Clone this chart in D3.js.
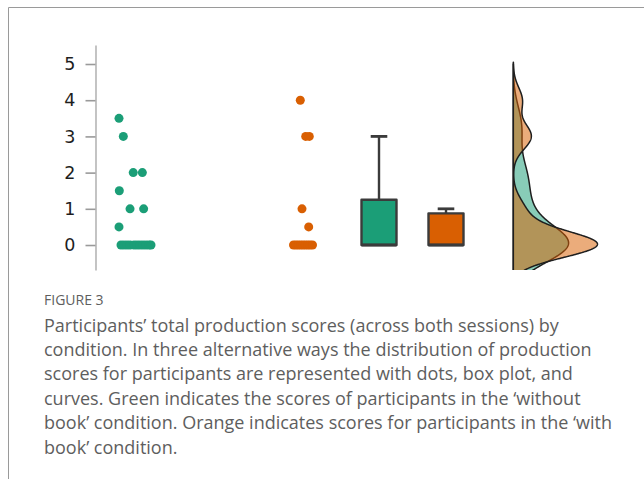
<!DOCTYPE html>
<html>
<head>
<meta charset="utf-8">
<script src="https://cdn.jsdelivr.net/npm/d3@7"></script>
<style>
  html, body { margin: 0; padding: 0; background: #fff; }
  svg { display: block; }
</style>
</head>
<body>
<svg id="fig" width="644" height="479"></svg>
<script>
// Total production scores per participant, one array per condition.
const conditions = ["without book", "with book"];
const withoutBookScores = [3.5, 3, 2, 2, 1.5, 1, 1, 0.5, 0, 0, 0, 0, 0, 0, 0, 0, 0, 0, 0];
const withBookScores = [4, 3, 3, 1, 0.5, 0, 0, 0, 0, 0, 0, 0, 0, 0];
// Horizontal jitter of each dot within its strip (-1 … 1).
const withoutBookJitter = [-1.0, -0.73, -0.11, 0.46, -0.98, -0.31, 0.54, -1.0,
  -0.875, -0.69, -0.5, -0.31, -0.06, 0.125, 0.31, 0.5, 0.69, 0.875, 1.0];
const withBookJitter = [-0.22, 0.32, 0.68, -0.05, 0.62,
  -0.9, -0.66, -0.43, -0.19, 0.05, 0.29, 0.53, 0.76, 1.0];
// Kernel bandwidths of the density curves.
const bandwidths = [0.5, 0.35];
const yTicks = [0, 1, 2, 3, 4, 5];

const captionTitle = "FIGURE 3";
const captionLines = [
  "Participants\u2019 total production scores (across both sessions) by",
  "condition. In three alternative ways the distribution of production",
  "scores for participants are represented with dots, box plot, and",
  "curves. Green indicates the scores of participants in the \u2018without",
  "book\u2019 condition. Orange indicates scores for participants in the \u2018with",
  "book\u2019 condition."
];

const dotColors = ["#1b9e77", "#d95f02"];
const groups = [
  { name: conditions[0], scores: withoutBookScores, jitter: withoutBookJitter, bw: bandwidths[0], color: dotColors[0] },
  { name: conditions[1], scores: withBookScores, jitter: withBookJitter, bw: bandwidths[1], color: dotColors[1] }
];

const svg = d3.select("#fig");

// panel frame
svg.append("path")
  .attr("d", "M8.5,479 V7.5 H644")
  .attr("fill", "none")
  .attr("stroke", "#9a9a9a")
  .attr("stroke-width", 1);

const plot = { top: 45, bottom: 270 };
const y = d3.scaleLinear().domain([-0.69, 5.525]).range([plot.bottom, plot.top]);

// x layout of the three views: strips, boxes, densities
const stripX = [135, 302.5];
const stripHalf = [16, 10];
const boxX = [379, 446];
const boxHalf = 17.5;
const capHalf = 8.3;
const densityBase = 513.3;
const densityWidth = 84.2;

// y axis
const axis = d3.axisLeft(y).tickValues(yTicks).tickSize(10).tickSizeOuter(0).tickPadding(10)
  .tickFormat(d3.format("d"));
const gAxis = svg.append("g").attr("transform", "translate(95.5,0)").call(axis);
gAxis.select(".domain").attr("stroke", "#b5b5b5").attr("stroke-width", 1.6);
gAxis.selectAll(".tick line").attr("stroke", "#9a9a9a").attr("stroke-width", 1.6);
gAxis.selectAll(".tick text")
  .attr("fill", "#1e1e1e")
  .style("font-family", "'DejaVu Sans', sans-serif")
  .style("font-size", "17.5px");

// strip of dots
groups.forEach((g, gi) => {
  const jx = d3.scaleLinear().domain([-1, 1]).range([stripX[gi] - stripHalf[gi], stripX[gi] + stripHalf[gi]]);
  svg.append("g").selectAll("circle")
    .data(g.scores.map((s, i) => ({ s, j: g.jitter[i] })))
    .join("circle")
    .attr("cx", d => jx(d.j))
    .attr("cy", d => y(d.s))
    .attr("r", 4.5)
    .attr("fill", g.color);
});

// box plots (Tukey whiskers, outliers not shown)
groups.forEach((g, gi) => {
  const sorted = g.scores.slice().sort(d3.ascending);
  const q1 = d3.quantile(sorted, 0.25);
  const med = d3.quantile(sorted, 0.5);
  const q3 = d3.quantile(sorted, 0.75);
  const iqr = q3 - q1;
  const hi = d3.max(sorted.filter(v => v <= q3 + 1.5 * iqr));
  const lo = d3.min(sorted.filter(v => v >= q1 - 1.5 * iqr));
  const cx = boxX[gi];
  const bg = svg.append("g").attr("stroke", "#3b3b3b").attr("stroke-width", 2.4).attr("stroke-linejoin", "round");
  if (hi > q3) {
    bg.append("line").attr("x1", cx).attr("x2", cx).attr("y1", y(q3)).attr("y2", y(hi));
    bg.append("line").attr("x1", cx - capHalf).attr("x2", cx + capHalf).attr("y1", y(hi)).attr("y2", y(hi)).attr("stroke-width", 2.8);
  }
  if (lo < q1) {
    bg.append("line").attr("x1", cx).attr("x2", cx).attr("y1", y(q1)).attr("y2", y(lo));
    bg.append("line").attr("x1", cx - capHalf).attr("x2", cx + capHalf).attr("y1", y(lo)).attr("y2", y(lo));
  }
  bg.append("rect")
    .attr("x", cx - boxHalf).attr("width", boxHalf * 2)
    .attr("y", y(q3)).attr("height", y(q1) - y(q3))
    .attr("fill", g.color);
  bg.append("line").attr("x1", cx - boxHalf).attr("x2", cx + boxHalf)
    .attr("y1", y(med)).attr("y2", y(med)).attr("stroke-width", 3.2);
});

// gaussian kernel densities, drawn as half-violins to the right of a shared baseline
const gauss = u => Math.exp(-0.5 * u * u) / Math.sqrt(2 * Math.PI);
const densities = groups.map(g => {
  const lo = d3.min(g.scores) - 3 * g.bw, hi = d3.max(g.scores) + 3 * g.bw;
  const grid = d3.range(lo, hi, 0.01).concat([hi]);
  return grid.map(t => [t, d3.sum(g.scores, v => gauss((t - v) / g.bw)) / (g.scores.length * g.bw)]);
});
const dx = d3.scaleLinear()
  .domain([0, d3.max(densities, d => d3.max(d, p => p[1]))])
  .range([densityBase, densityBase + densityWidth]);

svg.append("clipPath").attr("id", "plotClip")
  .append("rect").attr("x", 0).attr("y", plot.top).attr("width", 644).attr("height", plot.bottom - plot.top);

const area = d3.area()
  .y(d => y(d[0]))
  .x0(dx(0))
  .x1(d => dx(d[1]));

const gd = svg.append("g").attr("clip-path", "url(#plotClip)");
densities.forEach((d, gi) => {
  gd.append("path")
    .datum(d)
    .attr("d", area)
    .attr("fill", dotColors[gi])
    .attr("fill-opacity", 0.52)
    .attr("stroke", "#1e1e1e")
    .attr("stroke-width", 1.5)
    .attr("stroke-linejoin", "round");
});

// caption
svg.append("text")
  .attr("x", 44).attr("y", 305)
  .attr("fill", "#5e5e5e")
  .style("font-family", "'Open Sans', sans-serif")
  .style("font-size", "14px")
  .text(captionTitle);

svg.append("g").selectAll("text")
  .data(captionLines)
  .join("text")
  .attr("x", 44)
  .attr("y", (d, i) => 331.5 + i * 24.4)
  .attr("fill", "#5e5e5e")
  .style("font-family", "'Open Sans', sans-serif")
  .style("font-size", "18px")
  .text(d => d);
</script>
</body>
</html>
